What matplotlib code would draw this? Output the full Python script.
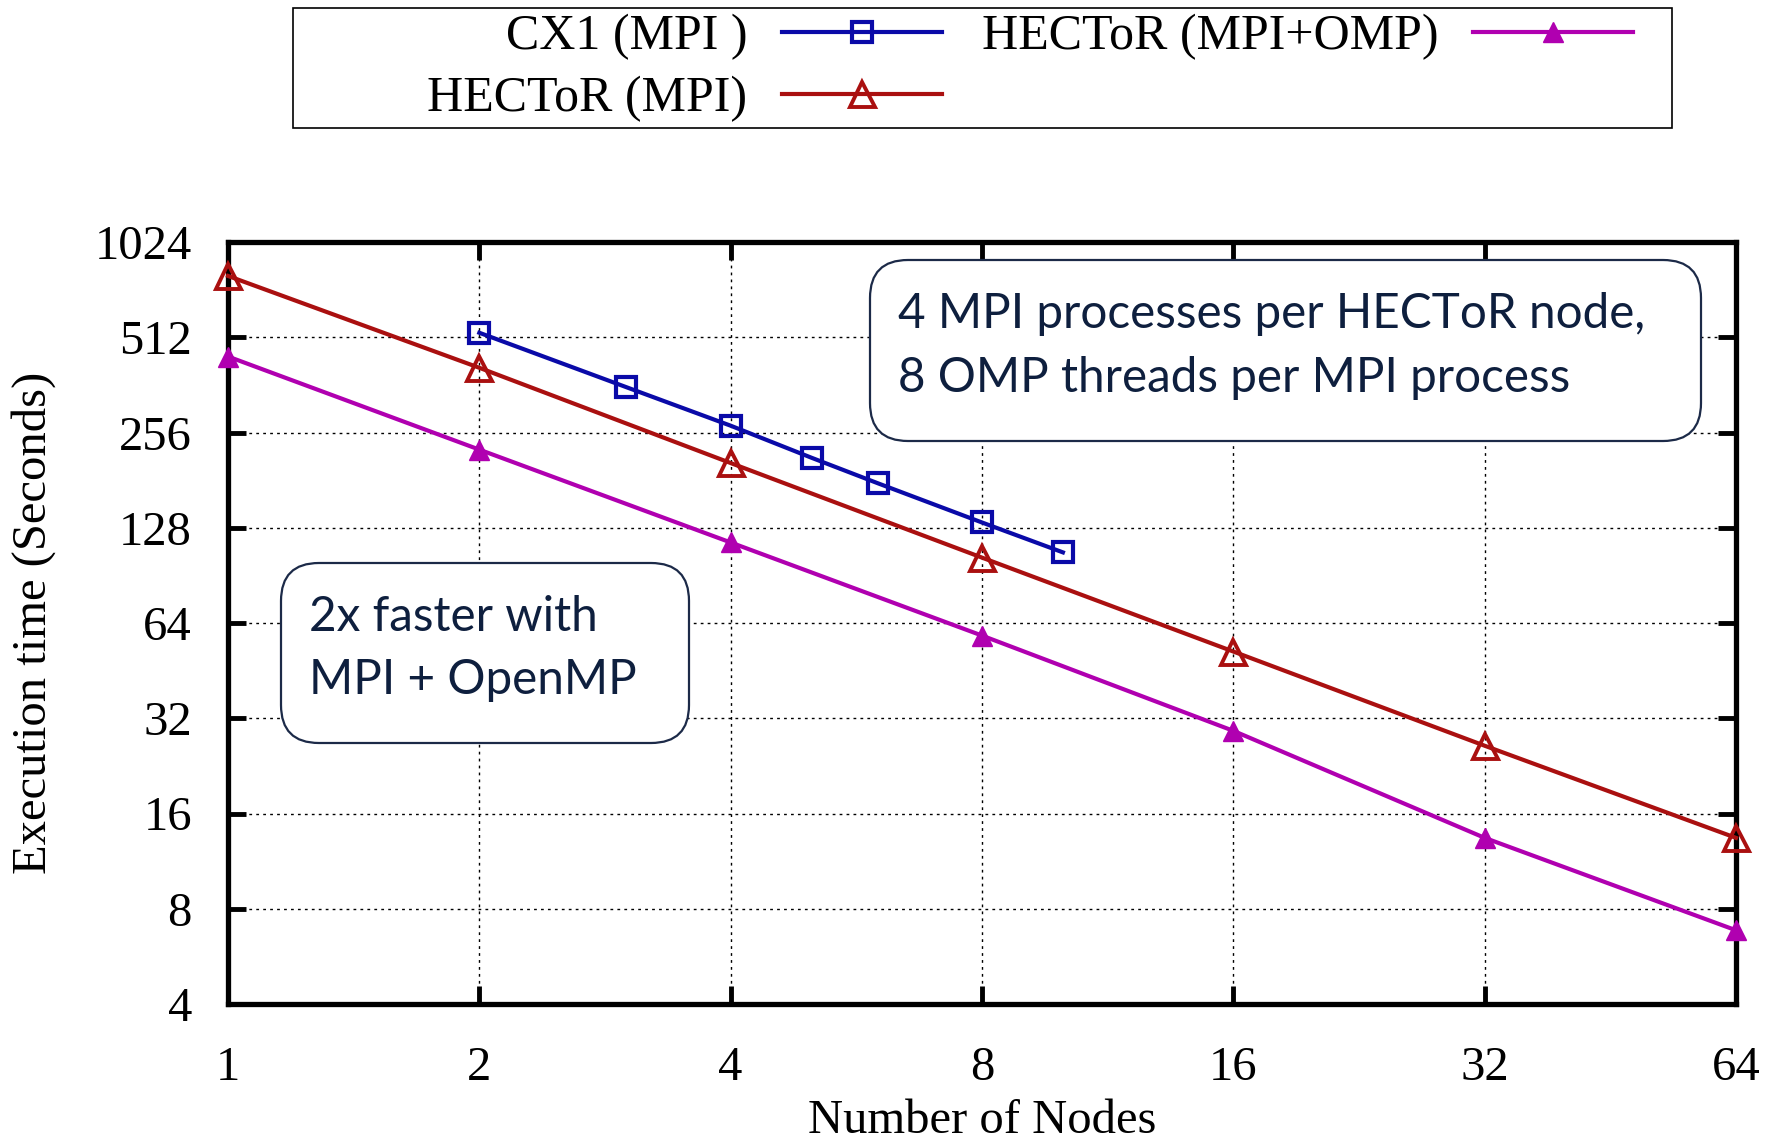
import matplotlib.pyplot as plt
from matplotlib.patches import FancyBboxPatch, Rectangle
from matplotlib.transforms import IdentityTransform

W, H = 1776, 1144

# data
cx1_nodes = [2, 3, 4, 5, 6, 8, 10]
cx1_time = [529, 356, 269, 213, 177, 133, 107]

hector_nodes = [1, 2, 4, 8, 16, 32, 64]
hector_mpi = [800, 410, 205, 103, 52, 26.2, 13.4]
hector_omp = [445, 226, 115, 58.4, 29.2, 13.4, 6.84]

xticks = [1, 2, 4, 8, 16, 32, 64]
yticks = [4, 8, 16, 32, 64, 128, 256, 512, 1024]

serif = ['Liberation Serif', 'DejaVu Serif']
sans = ['Lato', 'DejaVu Sans']
fs = 35

fig = plt.figure(figsize=(W / 100, H / 100), dpi=100)
ax = fig.add_axes([228 / W, 1 - 1004 / H, 1508 / W, 762 / H])

ax.plot(cx1_nodes, cx1_time, color='#0a0aa8', lw=3, marker='s', ms=14,
        mfc='none', mec='#0a0aa8', mew=3, label='CX1 (MPI )', clip_on=False, zorder=3)
ax.plot(hector_nodes, hector_mpi, color='#aa1010', lw=3, marker='^', ms=18,
        mfc='none', mec='#aa1010', mew=2.8, label='HECToR (MPI)', clip_on=False, zorder=3)
ax.plot(hector_nodes, hector_omp, color='#b000b0', lw=3, marker='^', ms=14,
        mfc='#b000b0', mec='#b000b0', label='HECToR (MPI+OMP)', clip_on=False, zorder=3)

ax.set_xscale('log', base=2)
ax.set_yscale('log', base=2)
ax.set_xlim(1, 64)
ax.set_ylim(4, 1024)
ax.set_xticks(xticks)
ax.set_xticklabels([str(t) for t in xticks])
ax.set_yticks(yticks)
ax.set_yticklabels([str(t) for t in yticks])
ax.minorticks_off()

ax.grid(True, color='black', lw=1, linestyle=(0, (2, 3)))
ax.tick_params(direction='in', length=13, width=3.5, top=True, right=True,
               labelsize=fs)
ax.tick_params(axis='x', pad=30)
ax.tick_params(axis='y', pad=26)
for lab in ax.get_xticklabels() + ax.get_yticklabels():
    lab.set_family(serif)
for s in ax.spines.values():
    s.set_linewidth(3.8)

ax.set_xlabel('Number of Nodes', fontsize=fs, family=serif, labelpad=7)
ax.set_ylabel('Execution time (Seconds)', fontsize=fs, family=serif, labelpad=28)

# legend, labels to the left of the handles like gnuplot
leg = fig.legend(loc='upper right', bbox_to_anchor=(1658 / W, 1 + 11 / H), ncol=2,
                 markerfirst=False, frameon=False, borderpad=0, handlelength=3.2,
                 handletextpad=0.69, columnspacing=0.8, labelspacing=0.3,
                 prop={'family': serif, 'size': 36})
fig.add_artist(Rectangle((293, H - 128), 1672 - 293, 120, transform=IdentityTransform(),
                         fill=False, edgecolor='black', lw=1.2))

# annotation boxes
def note_box(x0, y0, x1, y1, lines, tx, ty):
    fig.add_artist(FancyBboxPatch((x0, H - y1), x1 - x0, y1 - y0,
                                  boxstyle='round,pad=0,rounding_size=38',
                                  transform=IdentityTransform(), facecolor='white',
                                  edgecolor='#1c2a48', lw=1.6, zorder=5))
    for line, yy in zip(lines, ty):
        fig.text(tx, H - yy, line, transform=IdentityTransform(), fontsize=34.3,
                 family=sans, color='#0e1f3e', va='center', ha='left', zorder=6)

note_box(870, 260, 1701, 441,
         ['4 MPI processes per HECToR node,', '8 OMP threads per MPI process'],
         898, [314, 378])
note_box(281, 563, 689, 743, ['2x faster with', 'MPI + OpenMP'], 309, [617, 680])

fig.savefig('out.png', dpi=100)
